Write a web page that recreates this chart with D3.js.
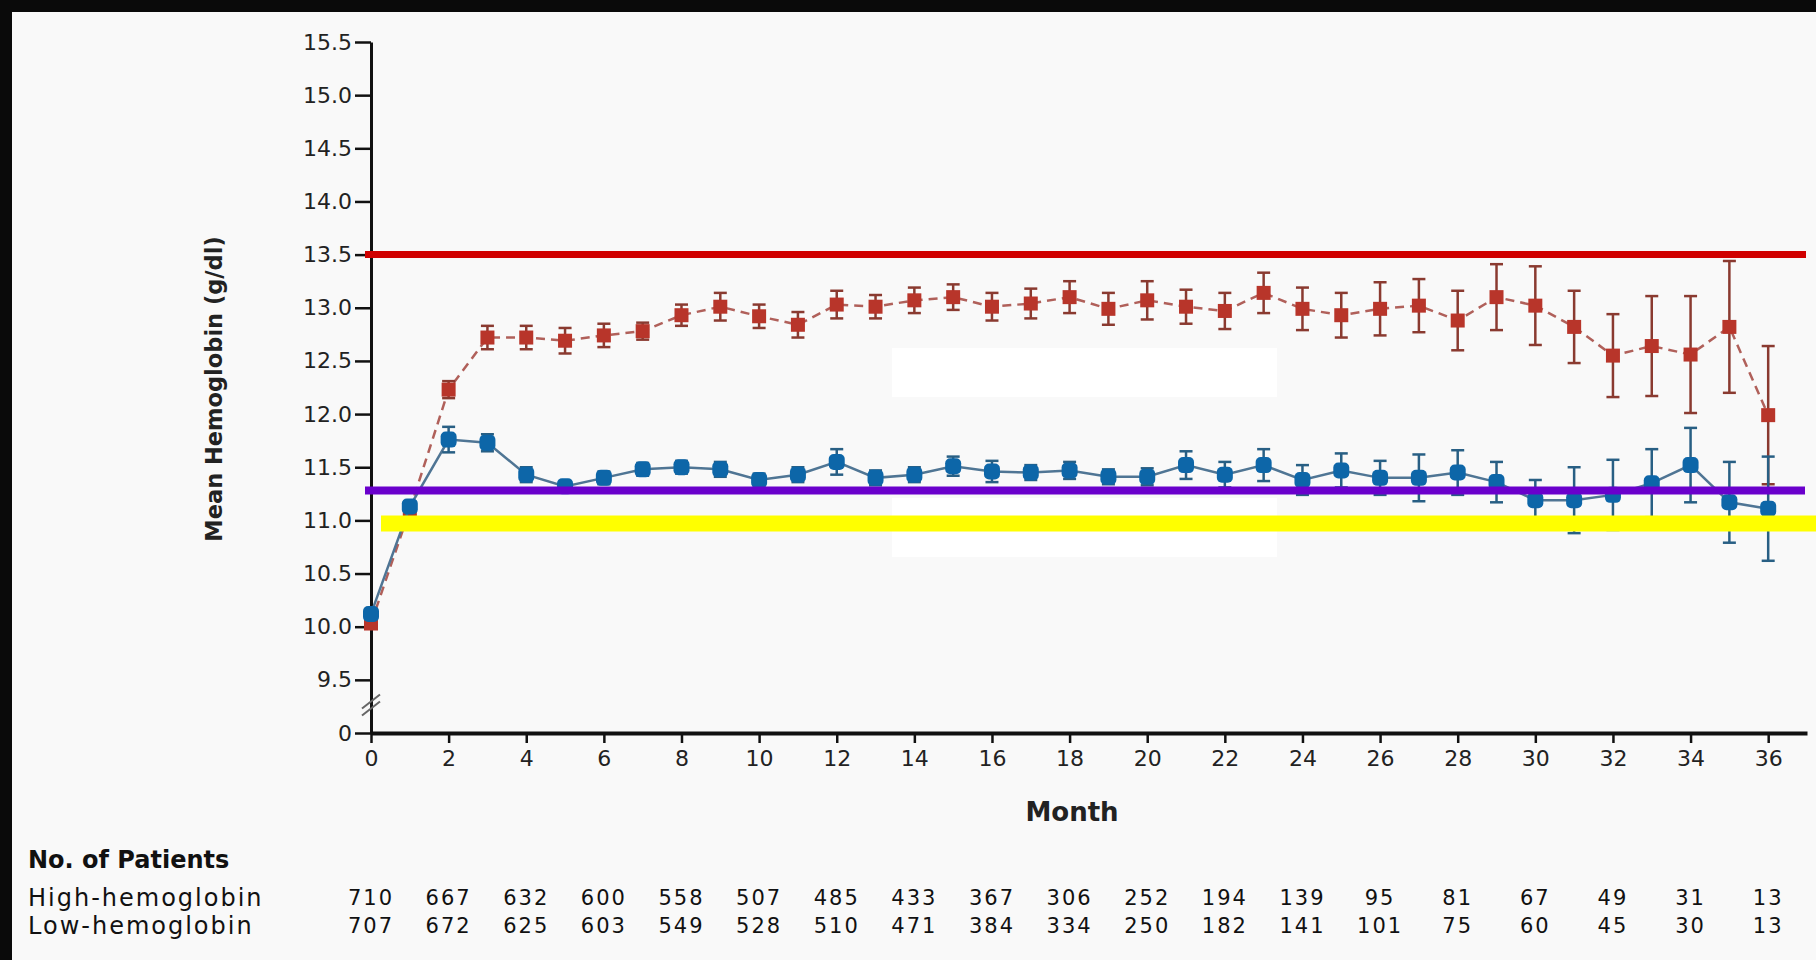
<!DOCTYPE html>
<html>
<head>
<meta charset="utf-8">
<script src="https://cdn.jsdelivr.net/npm/d3@7"></script>
<style>
  body { margin: 0; background: #0a0a0a; }
  svg { display: block; }
  .axis text { font-family: "DejaVu Sans", sans-serif; font-size: 22px; fill: #222; }
  .axis path, .axis line { stroke: #111; }
  .risk text { font-family: "DejaVu Sans", sans-serif; fill: #111; }
</style>
</head>
<body>
<div class="wrapper"></div>
<script>
// months on the x axis
var months = [0, 1, 2, 3, 4, 5, 6, 7, 8, 9, 10, 11, 12, 13, 14, 15, 16, 17, 18,
  19, 20, 21, 22, 23, 24, 25, 26, 27, 28, 29, 30, 31, 32, 33, 34, 35, 36];

// high-hemoglobin group (red squares, dashed)
var highMean = [10.03, 11.10, 12.23, 12.72, 12.72, 12.69, 12.74, 12.78, 12.93, 13.01,
  12.92, 12.84, 13.03, 13.01, 13.07, 13.10, 13.01, 13.04, 13.10, 12.99, 13.07, 13.01,
  12.97, 13.14, 12.99, 12.93, 12.99, 13.02, 12.88, 13.10, 13.02, 12.82, 12.55, 12.64,
  12.56, 12.82, 11.99];
var highErr = [0.04, 0.05, 0.08, 0.11, 0.11, 0.12, 0.11, 0.08, 0.10, 0.13, 0.11, 0.12,
  0.13, 0.11, 0.12, 0.12, 0.13, 0.14, 0.15, 0.15, 0.18, 0.16, 0.17, 0.19, 0.20, 0.21,
  0.25, 0.25, 0.28, 0.31, 0.37, 0.34, 0.39, 0.47, 0.55, 0.62, 0.65];

// low-hemoglobin group (blue dots, solid)
var lowMean = [10.12, 11.13, 11.76, 11.73, 11.43, 11.32, 11.40, 11.48, 11.50, 11.48,
  11.38, 11.43, 11.55, 11.40, 11.43, 11.51, 11.46, 11.45, 11.47, 11.41, 11.41, 11.52,
  11.43, 11.52, 11.38, 11.47, 11.40, 11.40, 11.45, 11.36, 11.19, 11.19, 11.24, 11.35,
  11.52, 11.17, 11.11];
var lowErr = [0.04, 0.05, 0.12, 0.08, 0.07, 0.05, 0.06, 0.06, 0.06, 0.07, 0.06, 0.07,
  0.12, 0.07, 0.07, 0.09, 0.10, 0.07, 0.08, 0.07, 0.08, 0.13, 0.12, 0.15, 0.14, 0.16,
  0.16, 0.22, 0.21, 0.19, 0.19, 0.31, 0.33, 0.32, 0.35, 0.38, 0.49];

// horizontal reference lines drawn over the chart
var refValues = [13.5, 11.28, 10.97];
var refColors = ["#d00000", "#6a00cc", "#ffff00"];

// y ticks (9.0 is shown as the broken "0")
var yTicks = [9, 9.5, 10, 10.5, 11, 11.5, 12, 12.5, 13, 13.5, 14, 14.5, 15, 15.5];
var xTicks = [0, 2, 4, 6, 8, 10, 12, 14, 16, 18, 20, 22, 24, 26, 28, 30, 32, 34, 36];

// number at risk table
var riskMonths = [0, 2, 4, 6, 8, 10, 12, 14, 16, 18, 20, 22, 24, 26, 28, 30, 32, 34, 36];
var riskHigh = [710, 667, 632, 600, 558, 507, 485, 433, 367, 306, 252, 194, 139, 95, 81, 67, 49, 31, 13];
var riskLow = [707, 672, 625, 603, 549, 528, 510, 471, 384, 334, 250, 182, 141, 101, 75, 60, 45, 30, 13];

var width = 1816, height = 960;

var svg = d3.select(".wrapper").append("svg")
  .attr("width", width)
  .attr("height", height);

// light page with black strip on top and left
svg.append("rect")
  .attr("x", 12).attr("y", 12)
  .attr("width", width - 12).attr("height", height - 12)
  .attr("fill", "#f9f9f9");

var x = d3.scaleLinear().domain([0, 37]).range([371, 1807]);
var y = d3.scaleLinear().domain([9, 15.5]).range([733, 42]);

// white patches in the plot area
svg.append("rect").attr("x", 892).attr("y", 348).attr("width", 385).attr("height", 49).attr("fill", "#ffffff");
svg.append("rect").attr("x", 892).attr("y", 498).attr("width", 385).attr("height", 59).attr("fill", "#ffffff");

/*------------------------------ axes ------------------------------*/
var yAxis = svg.append("g")
  .attr("class", "axis")
  .attr("transform", "translate(" + x(0) + ",0)")
  .call(d3.axisLeft(y).tickValues(yTicks).tickSize(16).tickSizeOuter(0).tickPadding(3)
    .tickFormat(d => d === 9 ? "0" : d.toFixed(1)));
yAxis.select(".domain").attr("stroke-width", 3);
yAxis.selectAll(".tick line").attr("stroke-width", 2.5);

var xAxis = svg.append("g")
  .attr("class", "axis")
  .attr("transform", "translate(0," + y(9) + ")")
  .call(d3.axisBottom(x).tickValues(xTicks).tickSize(10).tickSizeOuter(0).tickPadding(7));
xAxis.select(".domain").attr("stroke-width", 4);
xAxis.selectAll(".tick line").attr("stroke-width", 2.5);

// axis break marks
[0, 7].forEach(function (off) {
  svg.append("line")
    .attr("x1", x(0) - 9).attr("y1", y(9.25) + 9 - off)
    .attr("x2", x(0) + 9).attr("y2", y(9.25) - 5 - off)
    .attr("stroke", "#666").attr("stroke-width", 2);
});

svg.append("text")
  .attr("x", 1072).attr("y", 821)
  .attr("text-anchor", "middle")
  .style("font-family", "DejaVu Sans, sans-serif")
  .style("font-size", "26px").style("font-weight", "bold").style("fill", "#222")
  .text("Month");

svg.append("text")
  .attr("transform", "translate(214,389) rotate(-90)")
  .attr("text-anchor", "middle").attr("dy", "0.35em")
  .style("font-family", "DejaVu Sans, sans-serif")
  .style("font-size", "22.5px").style("font-weight", "bold").style("fill", "#222")
  .text("Mean Hemoglobin (g/dl)");

/*------------------------------ series ------------------------------*/
var high = months.map((m, i) => ({ m: m, v: highMean[i], e: highErr[i] }));
var low = months.map((m, i) => ({ m: m, v: lowMean[i], e: lowErr[i] }));

var line = d3.line().x(d => x(d.m)).y(d => y(d.v));

function errorBars(data, color, cls) {
  var g = svg.append("g").attr("class", cls);
  var bars = g.selectAll("g").data(data).join("g");
  bars.append("line")
    .attr("x1", d => x(d.m)).attr("x2", d => x(d.m))
    .attr("y1", d => y(d.v - d.e)).attr("y2", d => y(d.v + d.e))
    .attr("stroke", color).attr("stroke-width", 2.5);
  [-1, 1].forEach(function (s) {
    bars.append("line")
      .attr("x1", d => x(d.m) - 6.5).attr("x2", d => x(d.m) + 6.5)
      .attr("y1", d => y(d.v + s * d.e)).attr("y2", d => y(d.v + s * d.e))
      .attr("stroke", color).attr("stroke-width", 2.5);
  });
}

// high group: dashed line, squares
svg.append("path")
  .datum(high)
  .attr("d", line)
  .attr("fill", "none")
  .attr("stroke", "#b0605a")
  .attr("stroke-width", 2.5)
  .attr("stroke-dasharray", "9,6");
errorBars(high, "#8a3a30", "high-err");
svg.append("g").selectAll("rect")
  .data(high)
  .join("rect")
  .attr("x", d => x(d.m) - 7)
  .attr("y", d => y(d.v) - 7)
  .attr("width", 14).attr("height", 14)
  .attr("fill", "#b8352a");

// low group: solid line, dots
svg.append("path")
  .datum(low)
  .attr("d", line)
  .attr("fill", "none")
  .attr("stroke", "#4f7594")
  .attr("stroke-width", 2.5);
errorBars(low, "#285f84", "low-err");
svg.append("g").selectAll("rect")
  .data(low)
  .join("rect")
  .attr("x", d => x(d.m) - 8)
  .attr("y", d => y(d.v) - 8)
  .attr("width", 16).attr("height", 16)
  .attr("rx", 5)
  .attr("fill", "#0d66a8");

/*------------------------------ reference lines ------------------------------*/
var refX = [[365, 1806], [365, 1805], [381, 1816]];
var refW = [7, 8, 16];
svg.append("g").selectAll("line")
  .data(refValues)
  .join("line")
  .attr("x1", (d, i) => refX[i][0]).attr("x2", (d, i) => refX[i][1])
  .attr("y1", d => y(d)).attr("y2", d => y(d))
  .attr("stroke", (d, i) => refColors[i])
  .attr("stroke-width", (d, i) => refW[i]);

/*------------------------------ number at risk ------------------------------*/
var risk = svg.append("g").attr("class", "risk");
risk.append("text")
  .attr("x", 28).attr("y", 868)
  .style("font-size", "24px").style("font-weight", "bold")
  .text("No. of Patients");
risk.append("text")
  .attr("x", 28).attr("y", 906)
  .style("font-size", "24px").style("letter-spacing", "2px")
  .text("High-hemoglobin");
risk.append("text")
  .attr("x", 28).attr("y", 934)
  .style("font-size", "24px").style("letter-spacing", "2px")
  .text("Low-hemoglobin");

risk.selectAll(".rh")
  .data(riskHigh)
  .join("text")
  .attr("class", "rh")
  .attr("x", (d, i) => x(riskMonths[i]))
  .attr("y", 905)
  .attr("text-anchor", "middle")
  .style("font-size", "21px").style("letter-spacing", "2px")
  .text(d => d);
risk.selectAll(".rl")
  .data(riskLow)
  .join("text")
  .attr("class", "rl")
  .attr("x", (d, i) => x(riskMonths[i]))
  .attr("y", 933)
  .attr("text-anchor", "middle")
  .style("font-size", "21px").style("letter-spacing", "2px")
  .text(d => d);
</script>
</body>
</html>
